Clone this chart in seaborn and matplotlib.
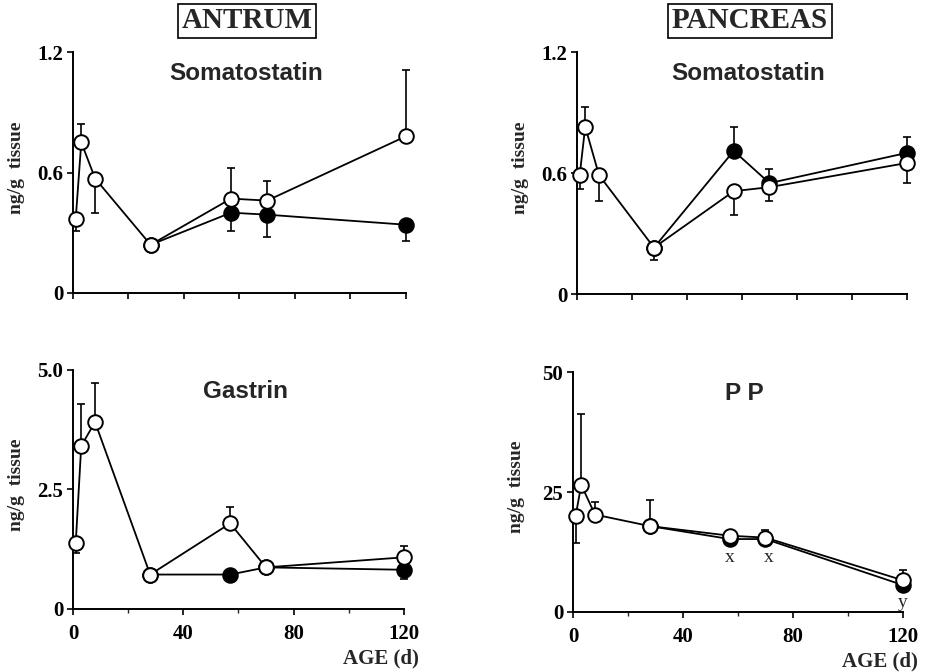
import numpy as np
import pandas as pd
import matplotlib
matplotlib.use("Agg")
import matplotlib.pyplot as plt
import seaborn as sns

sns.set_style("ticks")

# ages (days)
age_all = [1, 3, 8, 28, 57, 70, 120]
age_late = [28, 57, 70, 120]

# Antrum somatostatin (ng/g tissue)
ant_som_open = [0.37, 0.75, 0.57, 0.24, 0.47, 0.46, 0.78]
ant_som_open_lo = [0.06, 0, 0.17, 0, 0, 0, 0]
ant_som_open_hi = [0, 0.09, 0, 0, 0.15, 0.10, 0.33]
ant_som_fill = [0.24, 0.40, 0.39, 0.34]
ant_som_fill_lo = [0, 0.09, 0.11, 0.08]
ant_som_fill_hi = [0, 0, 0, 0]

# Antrum gastrin
ant_gas_open = [1.37, 3.41, 3.91, 0.72, 1.79, 0.87, 1.08]
ant_gas_open_lo = [0.2, 0, 0, 0, 0, 0, 0]
ant_gas_open_hi = [0, 0.88, 0.81, 0, 0.35, 0, 0.23]
ant_gas_fill = [0.72, 0.72, 0.87, 0.82]
ant_gas_fill_lo = [0, 0, 0, 0.19]
ant_gas_fill_hi = [0, 0, 0, 0]

# Pancreas somatostatin
pan_som_open = [0.59, 0.83, 0.59, 0.23, 0.51, 0.53, 0.65]
pan_som_open_lo = [0.07, 0, 0.13, 0.06, 0.12, 0.07, 0.10]
pan_som_open_hi = [0, 0.10, 0, 0, 0, 0.09, 0]
pan_som_fill = [0.23, 0.71, 0.55, 0.70]
pan_som_fill_lo = [0, 0, 0, 0]
pan_som_fill_hi = [0, 0.12, 0, 0.08]

# Pancreas PP
pan_pp_open = [20.1, 26.5, 20.3, 17.9, 15.9, 15.5, 6.6]
pan_pp_open_lo = [5.8, 0, 0, 0, 0, 0, 0]
pan_pp_open_hi = [0, 14.7, 2.7, 5.4, 0, 1.6, 2.1]
pan_pp_fill = [17.9, 15.2, 15.2, 5.6]
pan_pp_fill_lo = [0, 0, 0, 0]
pan_pp_fill_hi = [0, 0, 0, 0]

serif = "Liberation Serif"
sans = "Liberation Sans"

fig = plt.figure(figsize=(9.27, 6.72), dpi=100)

panels = [
    # rect, title, open, open_lo, open_hi, fill, fill_lo, fill_hi, ymax, yticks, ylabels, bottom row
    ([0.0787, 0.564, 0.359, 0.3586], "Somatostatin", ant_som_open, ant_som_open_lo, ant_som_open_hi,
     ant_som_fill, ant_som_fill_lo, ant_som_fill_hi, 1.2, [0, 0.6, 1.2], ["0", "0.6", "1.2"], False),
    ([0.6224, 0.5625, 0.356, 0.360], "Somatostatin", pan_som_open, pan_som_open_lo, pan_som_open_hi,
     pan_som_fill, pan_som_fill_lo, pan_som_fill_hi, 1.2, [0, 0.6, 1.2], ["0", "0.6", "1.2"], False),
    ([0.0787, 0.0938, 0.357, 0.3557], "Gastrin", ant_gas_open, ant_gas_open_lo, ant_gas_open_hi,
     ant_gas_fill, ant_gas_fill_lo, ant_gas_fill_hi, 5.0, [0, 2.5, 5.0], ["0", "2.5", "5.0"], True),
    ([0.6181, 0.0893, 0.356, 0.357], "P P", pan_pp_open, pan_pp_open_lo, pan_pp_open_hi,
     pan_pp_fill, pan_pp_fill_lo, pan_pp_fill_hi, 50, [0, 25, 50], ["0", "25", "50"], True),
]

axes = []
for rect, title, yo, yo_lo, yo_hi, yf, yf_lo, yf_hi, ymax, yt, ytl, bottom in panels:
    ax = fig.add_axes(rect)
    axes.append(ax)
    # error bars (one sided)
    ax.errorbar(age_all, yo, yerr=[yo_lo, yo_hi], fmt="none", ecolor="black",
                elinewidth=1.2, capsize=3, capthick=1.2, zorder=2, clip_on=False)
    ax.errorbar(age_late, yf, yerr=[yf_lo, yf_hi], fmt="none", ecolor="black",
                elinewidth=1.2, capsize=3, capthick=1.2, zorder=2, clip_on=False)
    df_f = pd.DataFrame({"age": age_late, "val": yf})
    df_o = pd.DataFrame({"age": age_all, "val": yo})
    sns.lineplot(data=df_f, x="age", y="val", ax=ax, color="black", lw=1.3,
                 marker="o", markersize=10.5, markerfacecolor="black",
                 markeredgecolor="black", markeredgewidth=1.4, zorder=3, clip_on=False)
    sns.lineplot(data=df_o, x="age", y="val", ax=ax, color="black", lw=1.3,
                 marker="o", markersize=10.5, markerfacecolor="white",
                 markeredgecolor="black", markeredgewidth=1.4, zorder=4, clip_on=False)
    ax.set_xlim(0, 120)
    ax.set_ylim(0, ymax)
    sns.despine(ax=ax)
    for s in ["left", "bottom"]:
        ax.spines[s].set_linewidth(1.4)
        ax.spines[s].set_color("black")
    ax.set_yticks(yt)
    ax.set_yticklabels(ytl, fontfamily=serif, fontweight="bold", fontsize=15)
    if bottom:
        ax.set_xticks([0, 40, 80, 120])
        ax.set_xticks([20, 60, 100], minor=True)
        ax.set_xticklabels(["0", "40", "80", "120"], fontfamily=serif,
                           fontweight="bold", fontsize=15)
        ax.set_xlabel("AGE (d)", fontfamily=serif, fontweight="bold", fontsize=15)
        ax.xaxis.set_label_coords(0.93, -0.165)
    else:
        ax.set_xticks([0, 20, 40, 60, 80, 100, 120])
        ax.set_xticklabels([])
        ax.set_xlabel("")
    ax.tick_params(axis="both", which="major", direction="out", length=4, width=1.2,
                   colors="black")
    ax.tick_params(axis="x", which="major", pad=7)
    ax.tick_params(axis="y", which="major", pad=3)
    ax.tick_params(axis="x", which="minor", direction="out", length=3, width=1.0)
    ax.set_ylabel("ng/g  tissue", fontfamily=serif, fontweight="bold", fontsize=14)
    ax.yaxis.set_label_coords(-0.145, 0.52)
    ax.text(0.52, 0.91, title, transform=ax.transAxes, ha="center", va="center",
            fontfamily=sans, fontweight="bold", fontsize=17.5)
    ax.set_facecolor("white")

# significance marks in PP panel
ax_pp = axes[3]
for xx, yy, lab in [(57, 11.3, "x"), (71, 11.3, "x"), (120, 1.9, "y")]:
    ax_pp.text(xx, yy, lab, ha="center", va="center", fontfamily=serif,
               fontsize=14, clip_on=False)

# boxed region headers
for xx, lab in [(247 / 927, "ANTRUM"), (750 / 927, "PANCREAS")]:
    fig.text(xx, 1 - 21 / 672, lab, ha="center", va="center", fontfamily=serif,
             fontweight="bold", fontsize=21,
             bbox=dict(boxstyle="square,pad=0.12", facecolor="white",
                       edgecolor="black", linewidth=1.2))

fig.savefig("out.png", dpi=100, facecolor="white")
